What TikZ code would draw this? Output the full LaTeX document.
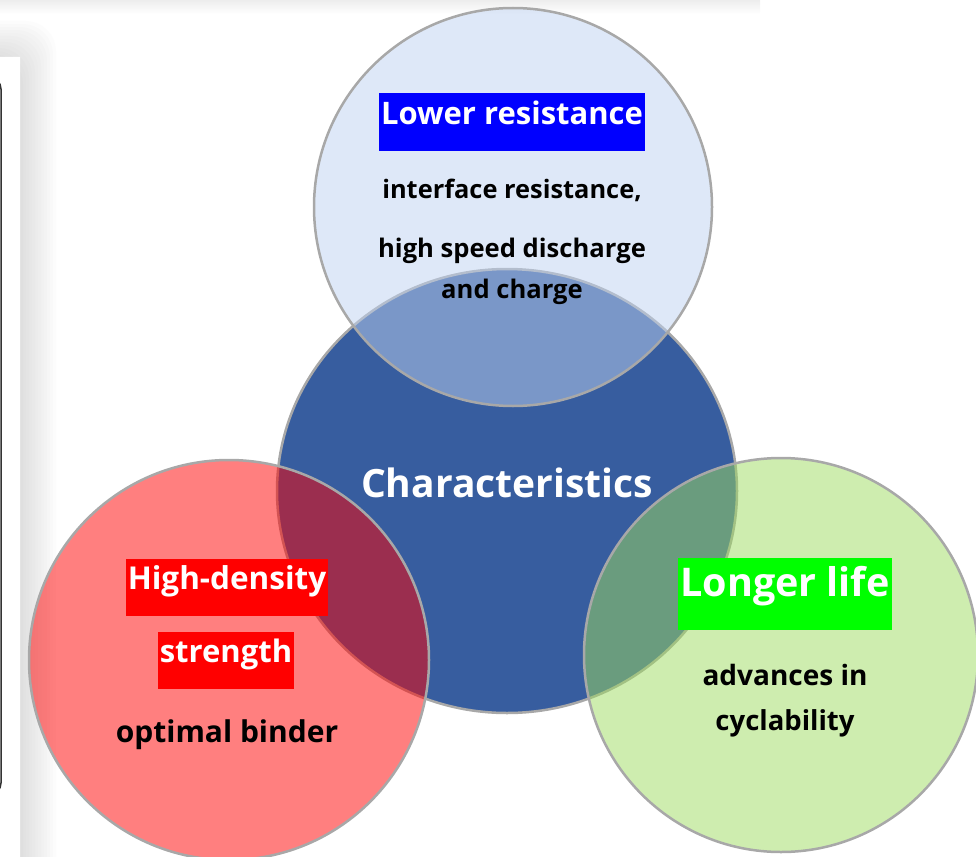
\documentclass[tikz,border=0pt]{standalone}
\usepackage{fontspec}
\setmainfont{Open Sans}
\usetikzlibrary{positioning,shapes.geometric}
\definecolor{coreblue}{RGB}{55,93,159}
\definecolor{paleblue}{RGB}{190,210,242}
\definecolor{softgreen}{RGB}{157,219,95}
\definecolor{rimgray}{RGB}{168,168,168}
\tikzset{
	bubble/.style={circle, draw=rimgray, line width=2.5pt, inner sep=0pt},
	glass/.style={bubble, fill opacity=0.5},
	tag/.style={text=white, inner xsep=2pt, inner ysep=0pt, text height=0.75em, text depth=0.2em},
	body/.style={anchor=base, text=black, inner sep=0pt},
}
\newcommand{\fs}[1]{\fontsize{#1}{#1}\selectfont\bfseries}
\begin{document}
\begin{tikzpicture}[x=1pt, y=-1pt, line join=round, line cap=round]
	\useasboundingbox (0,0) rectangle (976,856);
	% thin shadow along the top
	\shade[top color=gray!14, bottom color=white] (0,0) rectangle (760,14);
	% left panel and its shadow
	\foreach \s in {3,6,...,36}
		\fill[gray, opacity=0.025, rounded corners=30] (-80,57-\s) rectangle (20+\s,900);
	\fill[white] (-80,57) -- (20,57) [rounded corners=40] -- (20,900) -- (-80,900) -- cycle;
	\draw[gray!40!black, line width=1.5pt, rounded corners=12] (-80,77) rectangle (1,795);
	% circles
	\node[bubble, ellipse, fill=coreblue, minimum width=460, minimum height=444] (core) at (507,491) {};
	\node[glass, fill=paleblue, minimum size=398] (top) at (513,207) {};
	\node[glass, fill=red, minimum size=400] (left) at (229,660) {};
	\node[glass, fill=softgreen, minimum size=394] (right) at (781,655) {};
	% texts
	\node[body, text=white, font=\fs{39}] (title) at (507,497) {Characteristics};
	\node[tag, fill=blue, font=\fs{31}, minimum height=58] (resist) at (512,122) {Lower resistance};
	\node[body, font=\fs{25.4}] (iface) at (512,198) {interface resistance,};
	\node[body, font=\fs{25.6}] (speed) at (512,257) {high speed discharge};
	\node[body, font=\fs{25.6}] (charge) at (512,298) {and charge};
	\node[tag, fill=red, font=\fs{31.5}, minimum height=57] (dense) at (227,587) {High-density};
	\node[tag, fill=red, font=\fs{31}, minimum height=57] (strong) at (226,660) {strength};
	\node[body, font=\fs{30}] (binder) at (227,742) {optimal binder};
	\node[tag, fill=green, font=\fs{39.5}, minimum height=72] (life) at (785,594) {Longer life};
	\node[body, font=\fs{28}] (adv) at (785,685) {advances in};
	\node[body, font=\fs{27.5}] (cycle) at (785,730) {cyclability};
\end{tikzpicture}
\end{document}
